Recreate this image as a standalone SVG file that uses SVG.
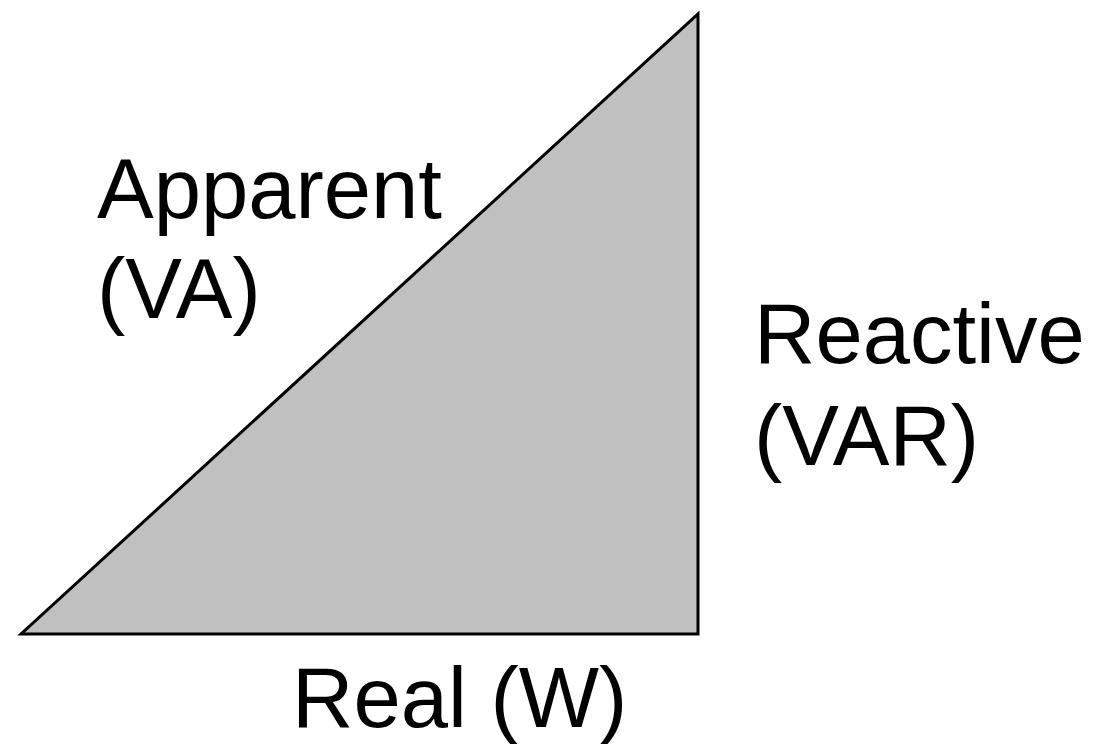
<svg xmlns="http://www.w3.org/2000/svg" width="1101" height="744" viewBox="0 0 1101 744">
<style>
.lbl{font-family:"Liberation Sans",Arial,sans-serif;font-size:85px;fill:#000}
</style>
<rect width="1101" height="744" fill="#fff"/>
<g id="triangle">
<polygon points="21,634 698,634 698,14" fill="#c0c0c0" stroke="#000" stroke-width="3" stroke-linejoin="miter" stroke-miterlimit="10"/>
</g>
<g id="label-apparent">
<text class="lbl" x="97" y="218">Apparent</text>
<text class="lbl" x="97" y="318">(VA)</text>
</g>
<g id="label-reactive">
<text class="lbl" x="754" y="363">Reactive</text>
<text class="lbl" x="754" y="465">(VAR)</text>
</g>
<g id="label-real">
<text class="lbl" x="292" y="727">Real (W)</text>
</g>
<g id="connectors"></g>
</svg>
